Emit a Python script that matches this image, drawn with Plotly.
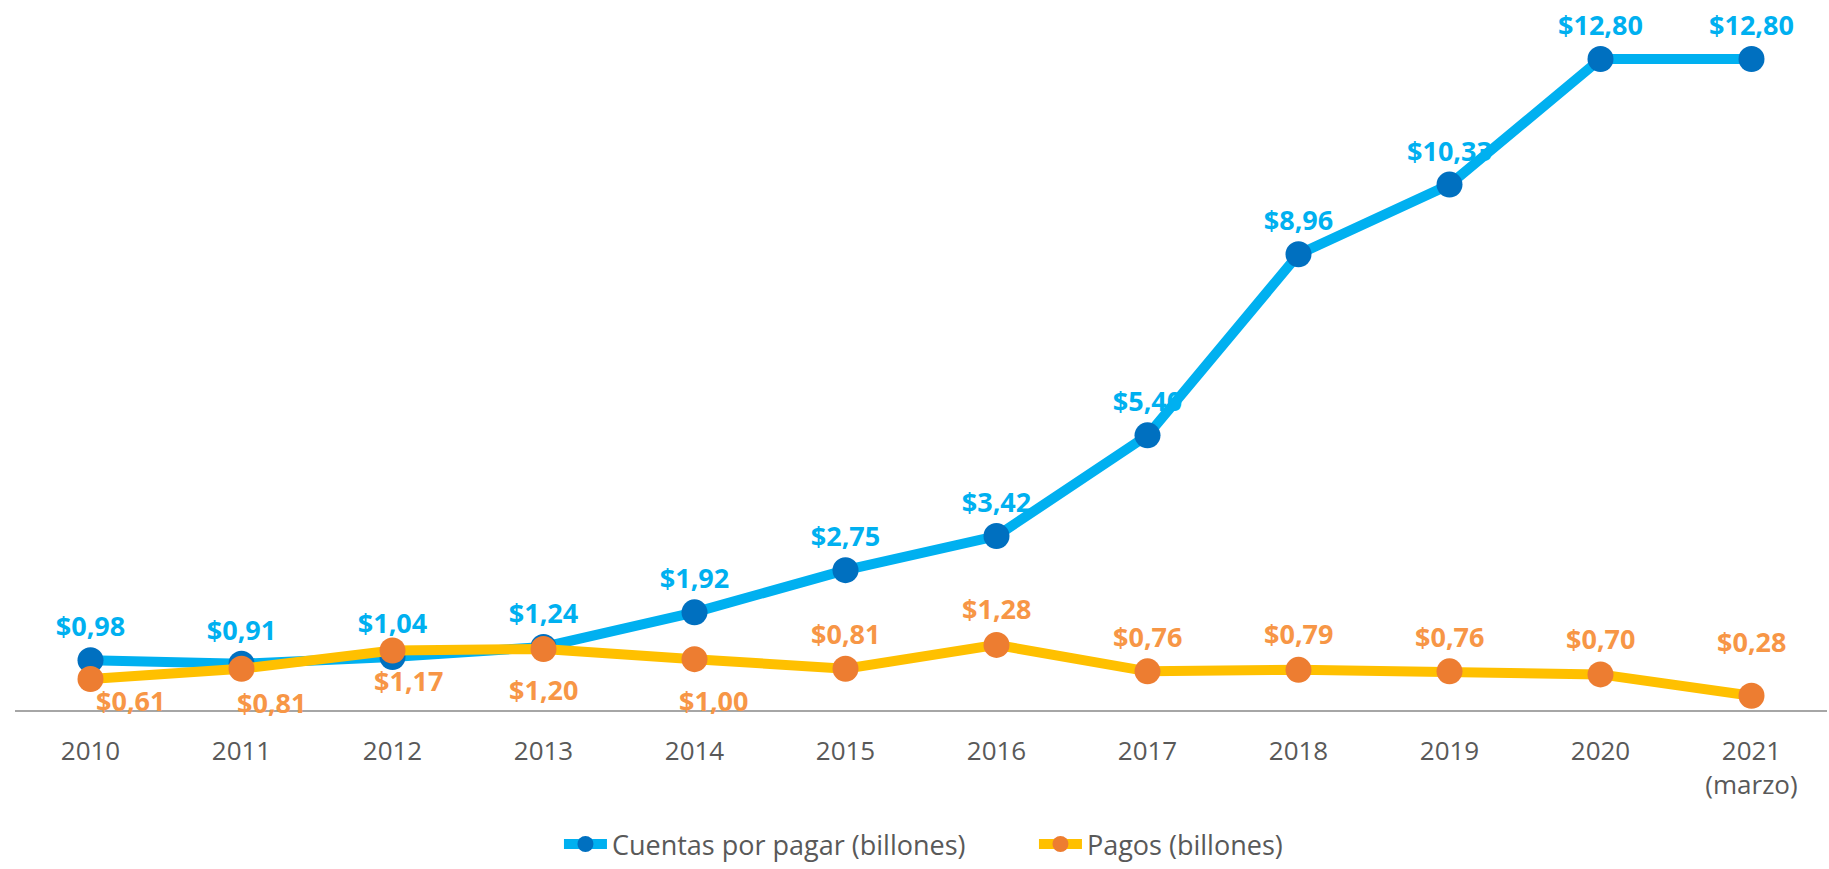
import plotly.graph_objects as go

"""""""""  Cuentas por pagar vs Pagos """""""""""

years = ["2010", "2011", "2012", "2013", "2014", "2015", "2016", "2017", "2018", "2019", "2020", "2021<br>(marzo)"]
cuentas = [0.98, 0.91, 1.04, 1.24, 1.92, 2.75, 3.42, 5.40, 8.96, 10.33, 12.80, 12.80]
pagos = [0.61, 0.81, 1.17, 1.20, 1.00, 0.81, 1.28, 0.76, 0.79, 0.76, 0.70, 0.28]
cuentas_labels = ["$0,98", "$0,91", "$1,04", "$1,24", "$1,92", "$2,75", "$3,42", "$5,40", "$8,96", "$10,33", "$12,80", "$12,80"]
pagos_labels = ["$0,61", "$0,81", "$1,17", "$1,20", "$1,00", "$0,81", "$1,28", "$0,76", "$0,79", "$0,76", "$0,70", "$0,28"]

#where each Pagos label sits around its marker (px)
pagos_label_dx = [40, 30, 16, 0, 19, 0, 0, 0, 0, 0, 0, 0]
pagos_label_dy = [-22, -34, -30, -41, -41, 35, 36, 35, 36, 35, 36, 54]

def lines_plot(x_array, first_array, second_array, first_text, second_text, first_name = "Cuentas por pagar (billones)", second_name = "Pagos (billones)"):
	""" First parameter is for the category array, then the two series and their labels """

	#Creates the figure
	fig = go.Figure(
		data = [
			go.Scatter(
				x = x_array,
				y = first_array,
				name = first_name,
				mode = "lines+markers+text",
				text = first_text,
				textposition = "top center",
				textfont = dict(color = "#00B0F0", size = 27, family = "Open Sans", weight = "bold"),
				line = dict(color = "#00B0F0", width = 10),
				marker = dict(color = "#0070C0", size = 26),
				cliponaxis = False
			)
		]
	)
	fig.add_scatter(
		x = x_array,
		y = second_array,
		name = second_name,
		mode = "lines+markers",
		line = dict(color = "#FFC000", width = 10),
		marker = dict(color = "#ED7D31", size = 26),
		cliponaxis = False
	)

	#labels of the second series, some under the line and some above it
	for i in range(len(x_array)):
		fig.add_annotation(
			x = i,  #category index
			y = second_array[i],
			text = second_text[i],
			showarrow = False,
			xshift = pagos_label_dx[i],
			yshift = pagos_label_dy[i],
			font = dict(color = "#F79646", size = 27, family = "Open Sans", weight = "bold")
		)

	fig.update_layout(
		width = 1829,
		height = 869,
		margin = dict(l = 15, r = 2, t = 0, b = 159, autoexpand = False),
		plot_bgcolor = "white",
		paper_bgcolor = "white",
		font = dict(family = "Open Sans", color = "#595959", size = 27),
		showlegend = True,
		legend = dict(orientation = "h", x = 0.3002, xanchor = "left", y = -0.2239, yanchor = "bottom", font = dict(size = 27), itemwidth = 43, entrywidth = 417)
	)
	fig.update_xaxes(
		type = "category",
		range = [-0.5, 11.5],
		showgrid = False,
		showline = True,
		linecolor = "#A6A6A6",
		linewidth = 2,
		ticks = "",
		ticklabelstandoff = 17,
		tickfont = dict(size = 26, color = "#595959")
	)
	fig.update_yaxes(
		range = [0, 13.96],
		visible = False,
		showgrid = False,
		zeroline = False
	)
	return fig

fig = lines_plot(years, cuentas, pagos, cuentas_labels, pagos_labels)
#no page margin round the figure, no mode bar
fig.write_html("out.html", config = {"displayModeBar": False}, post_script = "document.body.style.margin = '0px';")
